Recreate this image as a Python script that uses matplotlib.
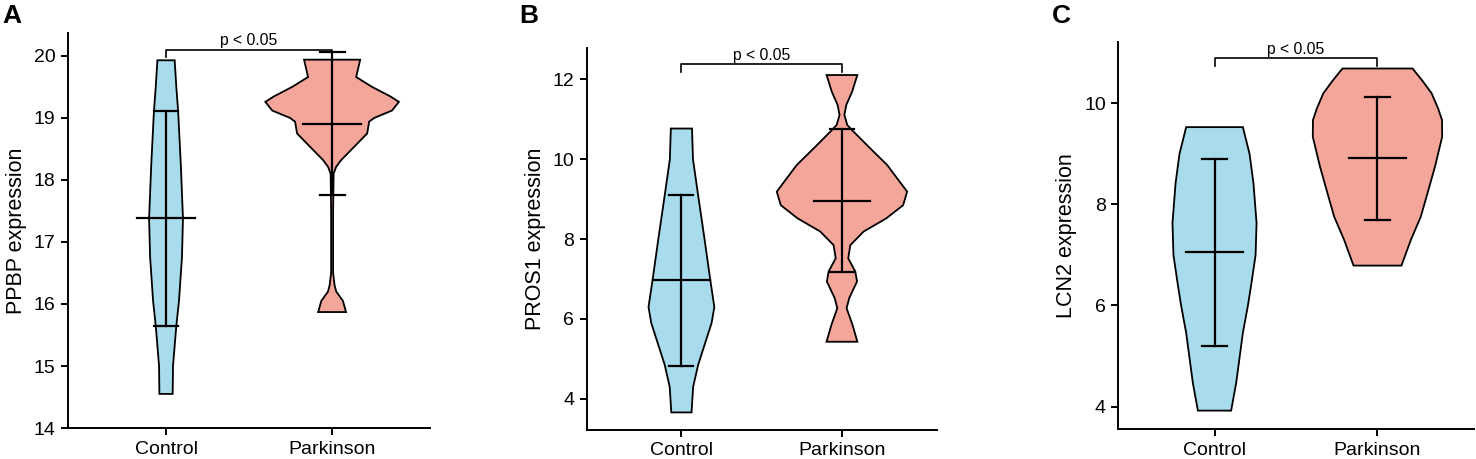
import numpy as np
import matplotlib
matplotlib.use("Agg")
import matplotlib.pyplot as plt

plt.rcParams['font.family'] = ['Liberation Sans', 'DejaVu Sans']

groups = ['Control', 'Parkinson']
blue = '#A8DBEB'
salmon = '#F4A69B'

# violin outlines: y value and half width (in category units)
a_ctrl_y = [19.93, 19.5, 19.1, 18.25, 17.38, 16.76, 16.05, 15.65, 15.0, 14.55]
a_ctrl_w = [0.052, 0.062, 0.073, 0.089, 0.102, 0.096, 0.078, 0.062, 0.042, 0.040]
a_park_y = [19.94, 19.8, 19.66, 19.5, 19.35, 19.26, 19.12, 19.0, 18.94, 18.75, 18.53,
            18.32, 18.21, 18.1, 17.5, 16.5, 16.3, 16.2, 16.05, 15.87]
a_park_w = [0.169, 0.157, 0.145, 0.241, 0.349, 0.402, 0.361, 0.253, 0.223, 0.211, 0.131,
            0.054, 0.024, 0.009, 0.006, 0.006, 0.015, 0.025, 0.065, 0.084]

b_ctrl_y = [10.77, 10.0, 9.1, 8.0, 7.0, 6.3, 5.9, 5.5, 4.85, 4.3, 3.66]
b_ctrl_w = [0.066, 0.072, 0.104, 0.144, 0.179, 0.205, 0.188, 0.156, 0.104, 0.073, 0.063]
b_park_y = [12.11, 11.69, 11.36, 11.11, 10.86, 10.73, 10.27, 9.86, 9.19, 8.85, 8.52, 8.19,
            7.85, 7.52, 7.19, 6.94, 6.52, 6.27, 5.85, 5.43]
b_park_w = [0.096, 0.063, 0.027, 0.015, 0.033, 0.063, 0.177, 0.281, 0.406, 0.381, 0.276, 0.135,
            0.052, 0.039, 0.083, 0.094, 0.045, 0.029, 0.066, 0.096]

c_ctrl_y = [9.53, 9.0, 8.42, 7.63, 7.0, 6.45, 6.0, 5.46, 4.47, 3.92]
c_ctrl_w = [0.174, 0.215, 0.239, 0.258, 0.252, 0.227, 0.205, 0.174, 0.133, 0.102]
c_park_y = [10.69, 10.45, 10.2, 9.9, 9.67, 9.34, 8.75, 8.2, 7.76, 7.3, 6.79]
c_park_w = [0.215, 0.275, 0.332, 0.372, 0.396, 0.397, 0.353, 0.305, 0.266, 0.205, 0.147]

# mean and error bar ends (control, parkinson)
a_mean = [17.38, 18.91]
a_low = [15.65, 17.76]
a_high = [19.11, 20.06]
b_mean = [6.98, 8.96]
b_low = [4.83, 7.17]
b_high = [9.10, 10.76]
c_mean = [7.06, 8.92]
c_low = [5.20, 7.70]
c_high = [8.90, 10.13]

# significance bracket: line y, tip y
a_sig = [20.10, 19.99]
b_sig = [12.38, 12.19]
c_sig = [10.89, 10.74]


def violin(ax, x, ys, ws, color):
    ys = np.array(ys)
    ws = np.array(ws)
    xs = np.concatenate([x - ws, (x + ws)[::-1]])
    yy = np.concatenate([ys, ys[::-1]])
    ax.fill(xs, yy, facecolor=color, edgecolor='black', linewidth=1.3, zorder=2)


def panel(ax, ylabel, shapes, mean, low, high, sig, ylim, yticks):
    for i, (ys, ws) in enumerate(shapes):
        x = i + 1
        violin(ax, x, ys, ws, [blue, salmon][i])
        ax.plot([x, x], [low[i], high[i]], color='black', lw=1.6, zorder=3)
        ax.plot([x - 0.075, x + 0.075], [low[i], low[i]], color='black', lw=1.6, zorder=3)
        ax.plot([x - 0.075, x + 0.075], [high[i], high[i]], color='black', lw=1.6, zorder=3)
        ax.plot([x - 0.175, x + 0.175], [mean[i], mean[i]], color='black', lw=1.6, zorder=3)
    ax.plot([1, 1, 2, 2], [sig[1], sig[0], sig[0], sig[1]], color='black', lw=1.2, zorder=4)
    ax.annotate('p < 0.05', xy=(1.5, sig[0]), xytext=(0, 1), textcoords='offset points',
                ha='center', va='bottom', fontsize=11.3)
    ax.set_xlim(0.41, 2.59)
    ax.set_ylim(*ylim)
    ax.set_yticks(yticks)
    ax.set_xticks([1, 2])
    ax.set_xticklabels(groups)
    ax.set_ylabel(ylabel, fontsize=15.5, labelpad=5)
    for s in ['top', 'right']:
        ax.spines[s].set_visible(False)
    for s in ['left', 'bottom']:
        ax.spines[s].set_linewidth(1.4)
    ax.tick_params(labelsize=14, width=1.4, length=5, pad=4)


fig = plt.figure(figsize=(14.76, 4.59), dpi=100)
axA = fig.add_axes([0.0461, 0.0675, 0.2453, 0.8606])
axB = fig.add_axes([0.3975, 0.0632, 0.2371, 0.8316])
axC = fig.add_axes([0.7577, 0.0647, 0.2407, 0.8444])

panel(axA, 'PPBP expression', [(a_ctrl_y, a_ctrl_w), (a_park_y, a_park_w)],
      a_mean, a_low, a_high, a_sig, (14, 20.37), [14, 15, 16, 17, 18, 19, 20])
panel(axB, 'PROS1 expression', [(b_ctrl_y, b_ctrl_w), (b_park_y, b_park_w)],
      b_mean, b_low, b_high, b_sig, (3.22, 12.78), [4, 6, 8, 10, 12])
panel(axC, 'LCN2 expression', [(c_ctrl_y, c_ctrl_w), (c_park_y, c_park_w)],
      c_mean, c_low, c_high, c_sig, (3.55, 11.22), [4, 6, 8, 10])

fig.text(2 / 1476, 1 - 4 / 459, 'A', fontsize=19, fontweight='bold', va='top', ha='left')
fig.text(519 / 1476, 1 - 4 / 459, 'B', fontsize=19, fontweight='bold', va='top', ha='left')
fig.text(1052 / 1476, 1 - 4 / 459, 'C', fontsize=19, fontweight='bold', va='top', ha='left')

fig.savefig('out.png', dpi=100)
